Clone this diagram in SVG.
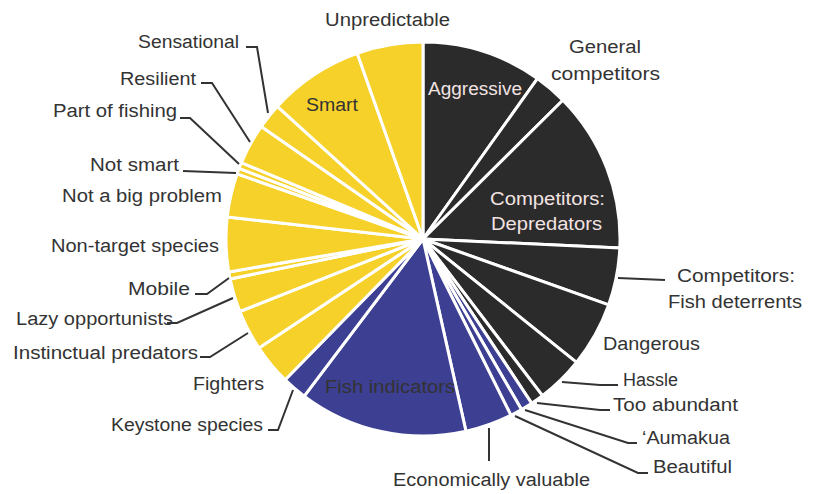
<svg xmlns="http://www.w3.org/2000/svg" width="814" height="494" viewBox="0 0 814 494">
<style>
.s{stroke:#fff;stroke-width:3;stroke-linejoin:round}
.bk{fill:#2b2b2b}
.bl{fill:#3c3f92}
.ye{fill:#f5d12a}
text{font-family:"Liberation Sans",Arial,sans-serif;font-size:18px;fill:#333}
.in{fill:#f3e3e3}
.ld{fill:none;stroke:#333;stroke-width:2}
</style>
<rect width="814" height="494" fill="#fff"/>
<g id="aggressive"><path class="s bk" d="M423,239 L423,42 A197,197 0 0 1 537.4,78.6 Z"/><text class="in" x="428" y="95" textLength="94" lengthAdjust="spacingAndGlyphs">Aggressive</text></g>
<g id="general-competitors"><path class="s bk" d="M423,239 L537.4,78.6 A197,197 0 0 1 562.8,100.2 Z"/><text x="569" y="53" textLength="72" lengthAdjust="spacingAndGlyphs">General</text><text x="551" y="80" textLength="109" lengthAdjust="spacingAndGlyphs">competitors</text></g>
<g id="depredators"><path class="s bk" d="M423,239 L562.8,100.2 A197,197 0 0 1 619.8,247.9 Z"/><text class="in" x="490" y="205" textLength="115" lengthAdjust="spacingAndGlyphs">Competitors:</text><text class="in" x="491" y="230" textLength="111" lengthAdjust="spacingAndGlyphs">Depredators</text></g>
<g id="fish-deterrents"><path class="s bk" d="M423,239 L619.8,247.9 A197,197 0 0 1 608.7,304.8 Z"/><text x="677" y="282" textLength="118" lengthAdjust="spacingAndGlyphs">Competitors:</text><text x="668" y="308" textLength="134" lengthAdjust="spacingAndGlyphs">Fish deterrents</text></g>
<g id="dangerous"><path class="s bk" d="M423,239 L608.7,304.8 A197,197 0 0 1 576.5,362.4 Z"/><text x="603" y="350" textLength="97" lengthAdjust="spacingAndGlyphs">Dangerous</text></g>
<g id="hassle"><path class="s bk" d="M423,239 L576.5,362.4 A197,197 0 0 1 542.4,395.7 Z"/><text x="623" y="386" textLength="55" lengthAdjust="spacingAndGlyphs">Hassle</text></g>
<g id="too-abundant"><path class="s bk" d="M423,239 L542.4,395.7 A197,197 0 0 1 531.7,403.3 Z"/><text x="613" y="411" textLength="125" lengthAdjust="spacingAndGlyphs">Too abundant</text></g>
<g id="aumakua"><path class="s bl" d="M423,239 L531.7,403.3 A197,197 0 0 1 521.5,409.6 Z"/><text x="642" y="444" textLength="88" lengthAdjust="spacingAndGlyphs">&#8216;Aumakua</text></g>
<g id="beautiful"><path class="s bl" d="M423,239 L521.5,409.6 A197,197 0 0 1 510.9,415.3 Z"/><text x="653" y="473" textLength="79" lengthAdjust="spacingAndGlyphs">Beautiful</text></g>
<g id="economically-valuable"><path class="s bl" d="M423,239 L510.9,415.3 A197,197 0 0 1 466,431.3 Z"/><text x="393" y="486" textLength="197" lengthAdjust="spacingAndGlyphs">Economically valuable</text></g>
<g id="fish-indicators"><path class="s bl" d="M423,239 L466,431.3 A197,197 0 0 1 304.2,396.1 Z"/><text x="325" y="393" textLength="130" lengthAdjust="spacingAndGlyphs">Fish indicators</text></g>
<g id="keystone-species"><path class="s bl" d="M423,239 L304.2,396.1 A197,197 0 0 1 285.2,379.8 Z"/><text x="111" y="431" textLength="152" lengthAdjust="spacingAndGlyphs">Keystone species</text></g>
<g id="fighters"><path class="s ye" d="M423,239 L285.2,379.8 A197,197 0 0 1 258.9,348 Z"/><text x="193" y="390" textLength="71" lengthAdjust="spacingAndGlyphs">Fighters</text></g>
<g id="instinctual-predators"><path class="s ye" d="M423,239 L258.9,348 A197,197 0 0 1 239.8,311.5 Z"/><text x="13" y="359" textLength="185" lengthAdjust="spacingAndGlyphs">Instinctual predators</text></g>
<g id="lazy-opportunists"><path class="s ye" d="M423,239 L239.8,311.5 A197,197 0 0 1 230.1,279 Z"/><text x="16" y="325" textLength="157" lengthAdjust="spacingAndGlyphs">Lazy opportunists</text></g>
<g id="mobile"><path class="s ye" d="M423,239 L230.1,279 A197,197 0 0 1 228.8,271.9 Z"/><text x="128" y="295" textLength="62" lengthAdjust="spacingAndGlyphs">Mobile</text></g>
<g id="non-target-species"><path class="s ye" d="M423,239 L228.8,271.9 A197,197 0 0 1 227.2,217 Z"/><text x="51" y="252" textLength="168" lengthAdjust="spacingAndGlyphs">Non-target species</text></g>
<g id="not-a-big-problem"><path class="s ye" d="M423,239 L227.2,217 A197,197 0 0 1 237.1,173.9 Z"/><text x="62" y="202" textLength="160" lengthAdjust="spacingAndGlyphs">Not a big problem</text></g>
<g id="not-smart"><path class="s ye" d="M423,239 L237.1,173.9 A197,197 0 0 1 239.1,168.4 Z"/><text x="90" y="171" textLength="89" lengthAdjust="spacingAndGlyphs">Not smart</text></g>
<g id="part-of-fishing"><path class="s ye" d="M423,239 L239.1,168.4 A197,197 0 0 1 241.4,162.7 Z"/><text x="53" y="117" textLength="124" lengthAdjust="spacingAndGlyphs">Part of fishing</text></g>
<g id="resilient"><path class="s ye" d="M423,239 L241.4,162.7 A197,197 0 0 1 261.2,126.6 Z"/><text x="120" y="85" textLength="76" lengthAdjust="spacingAndGlyphs">Resilient</text></g>
<g id="sensational"><path class="s ye" d="M423,239 L261.2,126.6 A197,197 0 0 1 277.3,106.4 Z"/><text x="138" y="48" textLength="101" lengthAdjust="spacingAndGlyphs">Sensational</text></g>
<g id="smart"><path class="s ye" d="M423,239 L277.3,106.4 A197,197 0 0 1 357.2,53.3 Z"/><text x="306" y="111" textLength="52" lengthAdjust="spacingAndGlyphs">Smart</text></g>
<g id="unpredictable"><path class="s ye" d="M423,239 L357.2,53.3 A197,197 0 0 1 423,42 Z"/><text x="325" y="26" textLength="125" lengthAdjust="spacingAndGlyphs">Unpredictable</text></g>
<g id="connectors">
<polyline class="ld" points="246,47 257,47 268,113"/>
<polyline class="ld" points="201,83 212,83 250,142"/>
<polyline class="ld" points="180,118 190,118 239,164"/>
<polyline class="ld" points="183,171 236,173"/>
<polyline class="ld" points="195,294 207,294 229,278"/>
<polyline class="ld" points="167,323 177,323 233,298"/>
<polyline class="ld" points="200,357 210,357 248,333"/>
<polyline class="ld" points="268,430 278,430 293,390"/>
<polyline class="ld" points="489,428 489,461"/>
<polyline class="ld" points="515,416 638,473 648,473"/>
<polyline class="ld" points="525,410 628,443 637,443"/>
<polyline class="ld" points="537,403 600,410 610,410"/>
<polyline class="ld" points="562,382 600,385 618,385"/>
<polyline class="ld" points="618,278 665,280"/>
</g>
</svg>
